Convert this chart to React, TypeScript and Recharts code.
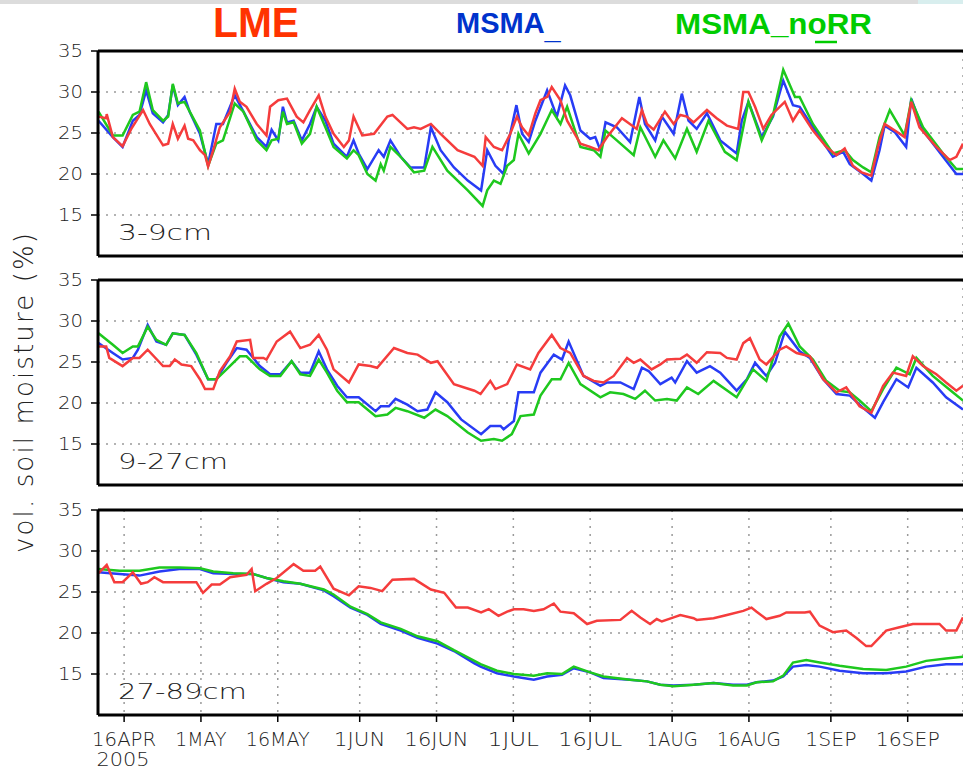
import React from 'react';
import { LineChart, Line, XAxis, YAxis, CartesianGrid, ReferenceLine } from 'recharts';

type Pt = [number, number];

// x = days after 16 Apr 2005, y = vol. soil moisture (%)
const TICK_DAYS = [0, 15, 30, 46, 61, 76, 91, 107, 122, 138, 153];
const TICK_LABELS = ['16APR', '1MAY', '16MAY', '1JUN', '16JUN', '1JUL', '16JUL', '1AUG', '16AUG', '1SEP', '16SEP'];
const Y_TICKS = [15, 20, 25, 30, 35];
const LAYERS = ['3-9cm', '9-27cm', '27-89cm'];

// ---- 3-9cm ----
const LME_1: Pt[] = [
  [-5, 27.0], [-3.5, 26.8], [-3.4, 27.3], [-2.2, 24.5], [-0.3, 23.4], [1.4, 25.5], [3.7, 27.8], [5.0, 26.1], [7.6, 23.5], [8.6, 23.7],
  [9.5, 26.1], [10.5, 24.3], [11.8, 25.9], [12.5, 24.3], [13.5, 24.1], [14.8, 22.9], [15.8, 22.3], [16.4, 20.9], [17.4, 22.9], [18.7, 25.7],
  [20.7, 27.6], [21.6, 30.4], [22.6, 28.8], [23.9, 28.2], [25.9, 26.1], [27.8, 24.7], [28.5, 28.2], [30.1, 29.0], [31.8, 29.2], [33.7, 27.0],
  [35.0, 26.3], [36.3, 27.8], [38.0, 29.6], [39.3, 27.0], [40.9, 24.9], [42.9, 23.3], [43.9, 24.1], [44.8, 27.0], [46.5, 24.7], [48.8, 24.9],
  [51.4, 27.0], [52.4, 27.2], [55.3, 25.5], [56.6, 25.7], [57.9, 25.5], [59.9, 26.1], [61.8, 24.9], [65.1, 22.9], [68.4, 22.1], [70.0, 21.0],
  [70.6, 24.5], [72.2, 23.3], [73.8, 22.9], [75.4, 24.9], [76.7, 27.0], [77.7, 25.7], [79.0, 24.7], [80.3, 27.4], [81.3, 29.0], [82.6, 29.4],
  [83.5, 30.6], [85.2, 29.0], [86.5, 26.5], [89.1, 23.7], [91.0, 23.3], [92.6, 22.9], [94.3, 24.5], [97.2, 26.8], [100.1, 25.5], [101.1, 27.8],
  [102.1, 26.1], [103.4, 25.4], [105.6, 27.6], [107.3, 26.1], [108.6, 27.2], [109.9, 27.0], [111.2, 26.3], [113.8, 27.8], [115.7, 26.8], [117.7, 25.9],
  [119.9, 25.5], [120.9, 30.0], [121.9, 30.0], [123.2, 28.2], [124.8, 25.5], [126.4, 27.2], [129.0, 28.8], [130.6, 26.5], [131.9, 27.8], [134.5, 25.3],
  [137.1, 23.3], [139.1, 22.3], [140.7, 23.1], [142.3, 21.0], [144.0, 20.2], [145.9, 19.8], [147.2, 23.3], [148.5, 26.1], [150.5, 25.3], [152.4, 24.5],
  [153.7, 28.8], [155.3, 25.7], [158.6, 23.3], [161.2, 21.7], [162.5, 22.1], [163.8, 23.7],
];
const MSMA_1: Pt[] = [
  [-5, 26.5], [-2.2, 24.5], [-0.3, 23.3], [1.7, 26.5], [3.0, 27.2], [4.3, 30.2], [5.6, 27.4], [7.6, 26.3], [8.6, 27.2], [9.5, 30.8],
  [10.5, 28.4], [11.8, 29.4], [12.8, 27.6], [14.8, 24.9], [16.4, 21.2], [18.0, 26.1], [19.3, 26.1], [21.6, 29.6], [23.3, 27.6], [25.9, 24.5],
  [27.8, 23.3], [28.8, 25.4], [30.1, 24.1], [31.0, 28.2], [31.8, 26.3], [33.1, 26.5], [34.7, 24.1], [36.3, 26.1], [37.6, 28.2], [39.3, 26.5],
  [40.9, 23.7], [43.5, 22.1], [44.8, 24.1], [45.8, 22.5], [47.5, 20.6], [49.7, 22.9], [50.7, 22.1], [52.0, 24.1], [54.0, 22.1], [55.9, 20.8],
  [58.6, 20.8], [59.9, 25.7], [61.8, 22.9], [64.4, 20.8], [67.1, 19.2], [69.7, 18.0], [70.9, 22.9], [72.5, 21.0], [74.1, 20.0], [75.1, 24.1],
  [76.6, 28.4], [77.7, 24.9], [79.0, 23.9], [80.3, 26.5], [82.6, 30.2], [84.5, 27.0], [86.1, 30.8], [87.1, 29.6], [89.1, 25.3], [91.0, 24.3],
  [92.0, 24.5], [93.0, 22.9], [94.0, 26.3], [96.2, 25.7], [98.8, 23.9], [100.6, 29.4], [101.7, 26.1], [103.7, 24.1], [105.0, 27.0], [107.3, 24.9],
  [108.9, 29.8], [110.2, 26.5], [111.8, 25.5], [113.8, 27.4], [116.4, 24.1], [119.6, 22.5], [120.6, 26.5], [121.9, 28.8], [124.5, 24.5], [126.7, 27.0],
  [128.7, 31.4], [130.6, 28.4], [131.9, 28.2], [134.5, 25.7], [138.4, 22.1], [140.4, 22.7], [141.7, 21.2], [144.3, 20.0], [145.9, 19.2], [147.5, 22.9],
  [148.5, 25.9], [150.5, 25.1], [152.7, 23.3], [153.7, 29.2], [156.0, 25.3], [159.9, 22.1], [162.5, 20.0], [163.8, 20.0],
];
const NORR_1: Pt[] = [
  [-5, 27.6], [-2.2, 24.7], [-0.3, 24.7], [1.7, 27.2], [3.0, 27.6], [4.3, 31.2], [5.6, 27.8], [7.6, 26.5], [8.6, 27.0], [9.5, 31.0],
  [10.5, 28.6], [11.8, 28.8], [14.8, 25.3], [16.4, 21.0], [18.0, 23.7], [19.3, 24.1], [21.6, 28.6], [23.3, 27.6], [25.9, 24.1], [27.8, 22.9],
  [28.8, 24.1], [30.1, 24.3], [31.0, 27.6], [31.8, 26.1], [33.1, 26.3], [34.7, 23.7], [36.3, 24.9], [37.6, 28.2], [39.3, 25.7], [40.9, 23.3],
  [43.5, 21.9], [44.8, 22.9], [45.8, 22.3], [47.5, 20.0], [49.1, 19.2], [50.1, 21.2], [50.7, 20.4], [52.0, 23.3], [54.0, 22.1], [56.6, 20.2],
  [58.6, 20.4], [60.2, 23.3], [63.1, 20.4], [67.1, 18.0], [70.0, 16.1], [70.9, 18.0], [72.2, 19.2], [73.5, 18.8], [74.8, 21.0], [76.1, 21.7],
  [77.0, 24.9], [79.0, 22.5], [81.3, 24.9], [83.5, 27.8], [85.2, 26.1], [86.5, 28.2], [89.1, 23.3], [91.7, 22.9], [93.0, 22.1], [94.0, 25.3],
  [96.2, 24.1], [99.5, 22.3], [100.8, 25.7], [103.7, 22.1], [105.3, 24.1], [107.6, 21.9], [109.9, 25.5], [111.8, 22.7], [114.1, 26.5], [117.3, 22.7],
  [119.6, 21.7], [121.9, 28.8], [124.5, 24.1], [126.7, 27.2], [128.7, 32.7], [131.0, 29.4], [131.9, 29.4], [134.5, 26.1], [138.4, 22.5], [140.7, 22.9],
  [142.3, 21.7], [144.3, 20.8], [145.9, 20.2], [147.5, 24.5], [149.5, 27.8], [152.4, 24.7], [153.7, 29.0], [156.0, 25.7], [159.9, 22.5], [162.5, 20.6],
  [163.8, 20.6],
];

// ---- 9-27cm ----
const LME_2: Pt[] = [
  [-5, 26.9], [-3.5, 26.9], [-2.9, 25.5], [-0.3, 24.5], [1.7, 25.5], [3.0, 25.5], [4.6, 26.5], [7.6, 24.5], [8.9, 24.5], [9.9, 25.3],
  [11.2, 24.7], [13.1, 24.5], [14.8, 22.9], [15.8, 21.7], [17.4, 21.7], [18.7, 23.9], [20.7, 25.7], [22.0, 27.5], [24.6, 27.7], [25.2, 25.5],
  [27.2, 25.5], [27.8, 25.3], [29.8, 27.5], [32.4, 28.7], [34.4, 26.7], [36.3, 27.1], [38.0, 28.3], [39.6, 26.5], [40.9, 24.1], [43.9, 22.5],
  [45.8, 24.7], [48.1, 24.5], [49.4, 24.3], [52.7, 26.7], [55.3, 26.1], [57.3, 25.9], [59.9, 24.9], [61.2, 25.1], [64.4, 22.3], [68.4, 21.5],
  [69.6, 21.1], [71.5, 22.7], [72.5, 21.7], [74.8, 22.3], [76.7, 24.7], [79.3, 24.1], [80.9, 26.1], [83.5, 28.3], [85.2, 26.7], [87.1, 26.1],
  [89.7, 23.3], [91.7, 22.7], [93.6, 22.5], [95.6, 23.3], [98.2, 25.5], [99.5, 24.9], [100.8, 25.3], [103.0, 24.1], [104.7, 24.7], [106.0, 25.3],
  [108.6, 25.4], [109.9, 25.9], [111.8, 24.9], [113.8, 26.2], [116.4, 26.1], [117.7, 25.5], [119.6, 25.3], [120.9, 27.3], [122.2, 27.9], [124.1, 25.3],
  [125.4, 24.7], [128.0, 26.5], [129.3, 26.9], [131.3, 26.1], [133.9, 25.7], [136.5, 22.9], [139.1, 21.3], [141.0, 21.9], [143.6, 19.6], [145.9, 18.8],
  [148.2, 22.1], [150.1, 23.7], [152.7, 23.3], [154.0, 25.7], [156.0, 24.5], [158.6, 23.5], [160.5, 22.5], [162.5, 21.5], [163.8, 22.1],
];
const MSMA_2: Pt[] = [
  [-5, 27.3], [-2.2, 26.1], [-0.3, 25.3], [1.7, 25.5], [2.7, 26.5], [4.6, 29.5], [6.3, 27.5], [8.2, 27.1], [9.5, 28.5], [11.8, 28.3],
  [14.1, 25.9], [16.4, 22.9], [18.0, 22.9], [20.0, 24.9], [22.0, 26.7], [23.9, 26.5], [26.5, 24.5], [28.5, 23.5], [30.5, 23.5], [32.7, 25.1],
  [34.4, 23.7], [36.3, 23.7], [38.0, 26.3], [39.6, 24.1], [41.6, 22.1], [43.5, 20.7], [45.8, 20.7], [49.1, 19.0], [50.1, 19.6], [51.7, 19.6],
  [53.0, 20.5], [55.3, 19.8], [57.3, 19.0], [59.2, 19.2], [60.8, 21.3], [63.1, 20.1], [65.8, 18.0], [69.7, 16.2], [71.5, 17.2], [73.5, 17.2],
  [74.1, 16.8], [76.1, 17.8], [77.0, 21.3], [80.0, 21.3], [81.3, 23.7], [83.9, 25.9], [85.5, 25.3], [86.8, 27.5], [89.7, 23.3], [93.0, 22.1],
  [94.3, 22.5], [96.9, 22.5], [99.5, 21.7], [101.1, 24.3], [102.4, 23.9], [104.7, 22.3], [106.9, 23.1], [107.6, 22.5], [109.9, 25.1], [111.8, 23.7],
  [114.4, 24.5], [116.4, 23.7], [119.6, 21.5], [121.6, 22.9], [123.2, 24.9], [125.4, 23.3], [127.1, 24.9], [129.0, 28.7], [131.9, 26.3], [133.9, 25.5],
  [136.5, 22.9], [139.1, 21.1], [141.7, 20.9], [144.3, 19.4], [146.6, 18.2], [148.2, 20.1], [150.8, 22.9], [153.1, 21.9], [154.7, 24.3], [157.9, 22.5],
  [160.5, 20.7], [163.8, 19.2],
];
const NORR_2: Pt[] = [
  [-5, 28.5], [-2.2, 27.1], [-0.3, 26.1], [1.7, 26.9], [2.7, 26.9], [4.6, 29.3], [6.3, 27.7], [8.2, 27.1], [9.5, 28.5], [11.8, 28.3],
  [14.1, 26.1], [16.4, 22.9], [18.0, 22.9], [20.0, 24.1], [22.6, 25.7], [23.9, 25.7], [26.5, 24.1], [28.5, 23.3], [30.5, 23.3], [32.7, 25.1],
  [34.4, 23.5], [36.3, 23.3], [38.0, 25.3], [39.6, 23.7], [41.6, 21.5], [43.5, 20.1], [45.8, 20.1], [49.1, 18.4], [51.4, 18.6], [53.0, 19.4],
  [55.3, 19.0], [58.6, 18.2], [60.8, 19.2], [63.1, 18.4], [67.1, 16.4], [69.7, 15.4], [72.2, 15.6], [73.8, 15.4], [75.7, 16.2], [77.4, 18.4],
  [80.0, 18.6], [81.3, 20.9], [83.5, 22.9], [85.2, 22.9], [86.8, 24.9], [89.1, 22.3], [93.0, 20.7], [94.9, 21.3], [97.5, 21.1], [99.8, 20.5],
  [101.7, 21.5], [103.7, 20.3], [106.0, 20.5], [107.9, 20.3], [109.9, 21.9], [112.1, 21.1], [115.1, 22.7], [119.6, 20.7], [122.8, 24.1], [125.4, 22.7],
  [128.0, 28.1], [129.7, 29.7], [131.9, 26.9], [134.5, 25.3], [137.1, 22.7], [139.7, 21.5], [141.7, 21.3], [143.6, 20.3], [145.9, 19.0], [148.2, 21.7],
  [150.8, 24.3], [153.4, 23.5], [154.7, 25.5], [157.9, 23.3], [161.8, 21.3], [163.8, 20.3],
];

// ---- 27-89cm ----
const LME_3: Pt[] = [
  [-5, 27.3], [-3.4, 28.3], [-1.9, 26.2], [-0.3, 26.2], [1.7, 27.4], [3.3, 26.0], [4.6, 26.2], [5.9, 26.8], [7.6, 26.2], [11.5, 26.2],
  [14.1, 26.2], [15.4, 24.9], [17.1, 25.9], [18.7, 25.9], [20.7, 26.8], [23.9, 27.1], [24.9, 27.8], [25.6, 25.1], [27.8, 26.0], [29.8, 26.7],
  [33.1, 28.4], [35.0, 27.6], [37.3, 27.6], [38.3, 28.1], [40.9, 25.4], [43.9, 24.6], [45.8, 25.7], [48.1, 25.5], [50.4, 25.1], [52.4, 26.5],
  [56.6, 26.6], [59.9, 25.3], [62.5, 24.9], [64.8, 23.1], [67.1, 23.1], [69.7, 22.5], [71.2, 22.9], [73.1, 22.1], [74.8, 22.6], [76.1, 22.9],
  [78.0, 22.9], [80.0, 22.7], [81.9, 22.9], [83.9, 23.6], [85.2, 22.6], [87.8, 22.4], [90.4, 21.1], [92.3, 21.5], [96.9, 21.6], [99.1, 22.7],
  [100.8, 21.9], [102.7, 21.1], [104.0, 21.7], [105.0, 21.4], [107.3, 21.9], [108.6, 22.2], [111.2, 21.8], [111.8, 21.6], [115.1, 21.8], [117.7, 22.2],
  [120.9, 22.7], [122.5, 23.1], [123.5, 22.6], [125.4, 21.7], [128.0, 22.1], [129.3, 22.5], [132.9, 22.5], [133.9, 22.6], [135.8, 20.9], [138.4, 20.1],
  [141.0, 20.3], [143.0, 19.4], [144.9, 18.4], [145.9, 18.4], [148.8, 20.3], [151.4, 20.7], [154.0, 21.1], [159.2, 21.1], [160.5, 20.3], [162.5, 20.3],
  [163.8, 21.9],
];
const MSMA_3: Pt[] = [
  [-5, 27.4], [-0.9, 27.2], [3.0, 27.0], [6.9, 27.5], [10.8, 27.8], [14.8, 27.8], [17.4, 27.3], [21.3, 27.2], [25.2, 27.2], [27.8, 26.7],
  [31.1, 26.2], [34.4, 26.0], [39.0, 25.2], [40.9, 24.5], [44.2, 23.1], [47.5, 22.2], [50.1, 21.1], [54.0, 20.3], [57.3, 19.4], [61.2, 18.7],
  [64.4, 17.8], [68.4, 16.3], [69.6, 15.9], [72.8, 15.1], [76.1, 14.7], [80.0, 14.3], [82.6, 14.7], [85.5, 14.9], [87.8, 15.7], [91.0, 15.2],
  [93.6, 14.5], [98.8, 14.3], [102.1, 14.1], [104.7, 13.7], [107.3, 13.6], [111.2, 13.7], [115.1, 13.9], [118.9, 13.7], [121.6, 13.7], [123.5, 14.0],
  [126.7, 14.2], [128.7, 14.7], [130.6, 15.9], [133.2, 16.1], [135.8, 15.9], [139.7, 15.4], [144.3, 15.1], [148.8, 15.1], [152.7, 15.3], [156.6, 15.9],
  [160.5, 16.2], [163.8, 16.2],
];
const NORR_3: Pt[] = [
  [-5, 27.8], [-0.9, 27.6], [3.0, 27.6], [6.9, 28.0], [10.8, 28.0], [14.8, 27.9], [17.4, 27.5], [21.3, 27.3], [25.2, 27.2], [27.8, 26.7],
  [31.1, 26.3], [34.4, 26.0], [39.0, 25.3], [40.9, 24.7], [44.2, 23.2], [47.5, 22.3], [50.1, 21.3], [54.0, 20.5], [57.3, 19.6], [61.2, 19.0],
  [64.4, 17.9], [68.4, 16.6], [69.6, 16.2], [72.8, 15.4], [76.1, 15.0], [80.0, 14.8], [82.6, 15.1], [85.5, 15.0], [87.8, 15.9], [91.0, 15.2],
  [93.6, 14.7], [98.8, 14.3], [102.1, 14.1], [104.7, 13.7], [107.3, 13.5], [111.2, 13.7], [115.1, 13.9], [118.9, 13.6], [121.6, 13.6], [123.5, 14.0],
  [126.7, 14.1], [128.7, 14.8], [130.6, 16.4], [133.2, 16.7], [135.8, 16.4], [139.7, 16.0], [144.3, 15.6], [148.8, 15.5], [152.7, 15.9], [156.6, 16.6],
  [160.5, 16.9], [163.8, 17.1],
];

const PANELS = [
  { lme: LME_1, msma: MSMA_1, norr: NORR_1 },
  { lme: LME_2, msma: MSMA_2, norr: NORR_2 },
  { lme: LME_3, msma: MSMA_3, norr: NORR_3 },
];

const PANEL_TOPS = [51, 280, 510];
const PLOT_H = 205;
const W = 963;
const FONT = '"DejaVu Sans", sans-serif';
const RED = '#f53c3c';
const BLUE = '#283cf5';
const GREEN = '#1ec81e';

const rows = (pts: Pt[]) => pts.map(([d, v]) => ({ d, v }));

const YTick = (props: any) => {
  const { x, y, payload } = props;
  return (
    <text x={x} y={y} dy="0.36em" textAnchor="end" fontFamily={FONT} fontWeight={300} fontSize={18} fill="#222"
      textLength={25} lengthAdjust="spacingAndGlyphs">
      {payload.value}
    </text>
  );
};

const XTick = (props: any) => {
  const { x, y, payload } = props;
  const i = TICK_DAYS.indexOf(payload.value);
  const label = TICK_LABELS[i];
  return (
    <text x={x} y={y + 22} textAnchor="middle" fontFamily={FONT} fontWeight={300} fontSize={20} fill="#222">
      <tspan x={x} textLength={label.length * 12.8} lengthAdjust="spacingAndGlyphs">{label}</tspan>
      {i === 0 && (
        <tspan x={x - 1} dy={20} textLength={53} lengthAdjust="spacingAndGlyphs">2005</tspan>
      )}
    </text>
  );
};

const Panel = ({ idx }: { idx: number }) => {
  const p = PANELS[idx];
  const showX = idx === 2;
  const mt = 14;
  const xh = showX ? 60 : 1;
  const mb = showX ? 0 : 4;
  return (
    <div style={{ position: 'absolute', left: 0, top: PANEL_TOPS[idx] - mt }}>
      <LineChart width={W} height={mt + PLOT_H + xh + mb} margin={{ top: mt, right: 0, bottom: mb, left: 0 }}>
        <CartesianGrid stroke="#9a9a9a" strokeDasharray="2 6" strokeWidth={1.5} />
        <XAxis
          type="number"
          dataKey="d"
          domain={[-5.1, 163.8]}
          allowDataOverflow
          ticks={TICK_DAYS}
          interval={0}
          height={xh}
          axisLine={{ stroke: '#000', strokeWidth: 3 }}
          tickLine={showX ? { stroke: '#000', strokeWidth: 1.5 } : false}
          tickSize={7}
          tickMargin={2}
          tick={showX ? <XTick /> : false}
        />
        <YAxis
          type="number"
          domain={[10, 35]}
          ticks={Y_TICKS}
          width={98}
          axisLine={{ stroke: '#000', strokeWidth: 3 }}
          tickLine={{ stroke: '#000', strokeWidth: 1.5 }}
          tickSize={7}
          tickMargin={8}
          tick={<YTick />}
        />
        <ReferenceLine y={35} stroke="#000" strokeWidth={3} />
        <Line data={rows(p.msma)} dataKey="v" stroke={BLUE} strokeWidth={2.5} dot={false} type="linear" isAnimationActive={false} />
        <Line data={rows(p.norr)} dataKey="v" stroke={GREEN} strokeWidth={2.5} dot={false} type="linear" isAnimationActive={false} />
        <Line data={rows(p.lme)} dataKey="v" stroke={RED} strokeWidth={2.5} dot={false} type="linear" isAnimationActive={false} />
      </LineChart>
    </div>
  );
};

export default function App() {
  return (
    <div style={{ position: 'absolute', left: 0, top: 0, width: W, height: 770, overflow: 'hidden', background: '#fff' }}>
      {[0, 1, 2].map((i) => <Panel key={i} idx={i} />)}
      <svg width={W} height={770} style={{ position: 'absolute', left: 0, top: 0, pointerEvents: 'none' }}>
        <rect x={0} y={0} width={918} height={4} fill="#dcdcdc" />
        <rect x={918} y={0} width={45} height={4} fill="#d8eeee" />
        <text x={213} y={37} fontFamily='"Liberation Sans", Arial, sans-serif' fontWeight="bold" fontSize={42}
          fill="#ff3300" textLength={86} lengthAdjust="spacingAndGlyphs">LME</text>
        <text x={456} y={33} fontFamily='"Liberation Sans", Arial, sans-serif' fontWeight="bold" fontSize={29}
          fill="#0033cc">
          MSMA<tspan dy={6}>_</tspan>
        </text>
        <text x={675} y={34} fontFamily='"Liberation Sans", Arial, sans-serif' fontWeight="bold" fontSize={30}
          fill="#00cc00" textLength={197} lengthAdjust="spacingAndGlyphs">MSMA_noRR</text>
        <line x1={815} x2={837} y1={42} y2={42} stroke="#00cc00" strokeWidth={2.5} />
        <text transform="translate(33 393) rotate(-90)" textAnchor="middle" fontFamily={FONT} fontWeight={300} fontSize={26}
          fill="#222" textLength={320} lengthAdjust="spacing">vol. soil moisture (%)</text>
        {LAYERS.map((name, i) => (
          <text key={name} x={118} y={PANEL_TOPS[i] + 189} fontFamily={FONT} fontWeight={300} fontSize={21} fill="#222"
            textLength={[94, 110, 129][i]} lengthAdjust="spacingAndGlyphs">{name}</text>
        ))}
      </svg>
    </div>
  );
}
